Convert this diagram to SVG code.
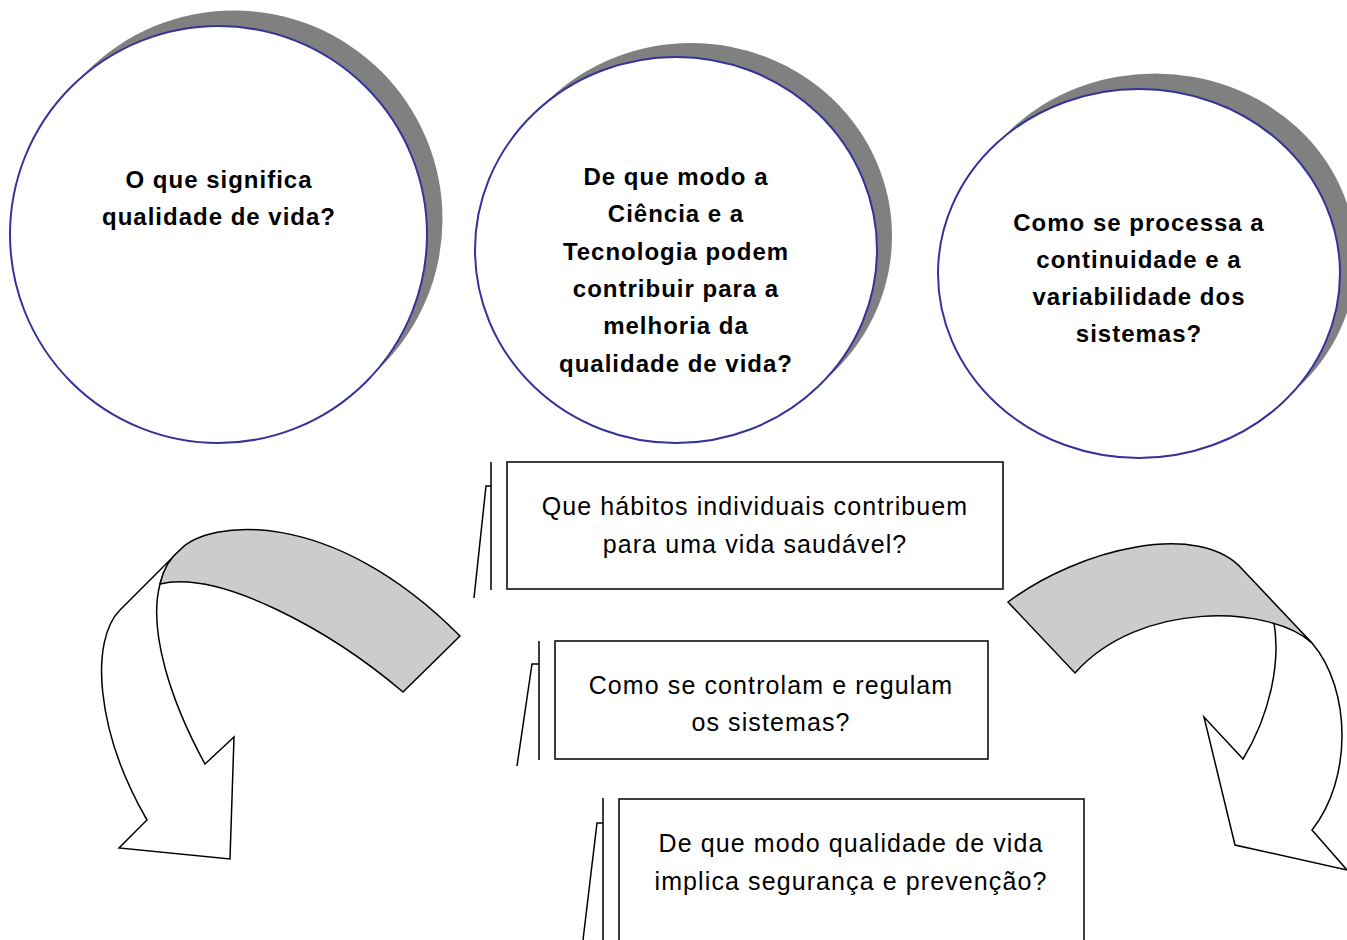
<svg xmlns="http://www.w3.org/2000/svg" width="1347" height="940" viewBox="0 0 1347 940">
<style>
.shadow{fill:#808080;stroke:none}
.circ{fill:#fff;stroke:#333399;stroke-width:2}
.ct{font-family:"Liberation Sans",Arial,sans-serif;font-weight:bold;font-size:24px;letter-spacing:1px;fill:#000;text-anchor:middle}
.box{fill:#fff;stroke:#000;stroke-width:1.5}
.deco{fill:none;stroke:#000;stroke-width:1.5}
.bt{font-family:"Liberation Sans",Arial,sans-serif;font-size:25px;letter-spacing:1.1px;fill:#000;text-anchor:middle}
.wa{fill:#fff;stroke:#000;stroke-width:1.5;stroke-linejoin:miter}
.ga{fill:#cccccc;stroke:#000;stroke-width:1.5}
</style>
<rect width="1347" height="940" fill="#fff"/>

<g id="circle1">
<ellipse class="shadow" cx="234" cy="219" rx="208.5" ry="208.5"/>
<ellipse class="circ" cx="218.5" cy="234.5" rx="208.5" ry="208.5"/>
<text class="ct" x="219" y="188">O que significa</text>
<text class="ct" x="219" y="225">qualidade de vida?</text>
</g>

<g id="circle2">
<ellipse class="shadow" cx="691" cy="236" rx="201" ry="193"/>
<ellipse class="circ" cx="676" cy="250" rx="201" ry="193"/>
<text class="ct" x="676" y="185">De que modo a</text>
<text class="ct" x="676" y="222">Ciência e a</text>
<text class="ct" x="676" y="260">Tecnologia podem</text>
<text class="ct" x="676" y="297">contribuir para a</text>
<text class="ct" x="676" y="334">melhoria da</text>
<text class="ct" x="676" y="372">qualidade de vida?</text>
</g>

<g id="circle3">
<ellipse class="shadow" cx="1155" cy="258" rx="201" ry="184.5"/>
<ellipse class="circ" cx="1139" cy="273.5" rx="201" ry="184.5"/>
<text class="ct" x="1139" y="231">Como se processa a</text>
<text class="ct" x="1139" y="268">continuidade e a</text>
<text class="ct" x="1139" y="305">variabilidade dos</text>
<text class="ct" x="1139" y="342">sistemas?</text>
</g>

<g id="box1">
<path class="deco" d="M491,462 V590 M474,598 L486,486 H491"/>
<rect class="box" x="507" y="462" width="496" height="127"/>
<text class="bt" x="755" y="515">Que hábitos individuais contribuem</text>
<text class="bt" x="755" y="553">para uma vida saudável?</text>
</g>

<g id="box2">
<path class="deco" d="M539,641 V760 M517,766 L532,664 H539"/>
<rect class="box" x="555" y="641" width="433" height="118"/>
<text class="bt" x="771" y="694">Como se controlam e regulam</text>
<text class="bt" x="771" y="731">os sistemas?</text>
</g>

<g id="box3">
<path class="deco" d="M603,798 V940 M583,940 L597,823 H603"/>
<rect class="box" x="619" y="799" width="465" height="150"/>
<text class="bt" x="851" y="852">De que modo qualidade de vida</text>
<text class="bt" x="851" y="890">implica segurança e prevenção?</text>
</g>

<g id="connectors">
<g id="arrow-left">
<path class="wa" d="M180,550 L120,610 C90,640 95,730 147,820 L119,848 L230,859 L234,737 L205,764 C170,700 148,630 160,584 Q165,562 180,550 Z"/>
<path class="ga" d="M180,550 C208,520 330,505 460,636 L403,692 C330,630 220,570 160,584 Q165,562 180,550 Z"/>
</g>
<g id="arrow-right">
<path class="wa" d="M1312,643 C1352,690 1352,780 1312,830 L1347,870 L1235,845 L1204,717 L1243,759 C1270,715 1282,660 1273,617 Q1295,625 1312,643 Z"/>
<path class="ga" d="M1008,602 C1080,548 1200,520 1243,570 L1312,643 C1270,605 1140,600 1075,673 Z"/>
</g>
</g>
</svg>
